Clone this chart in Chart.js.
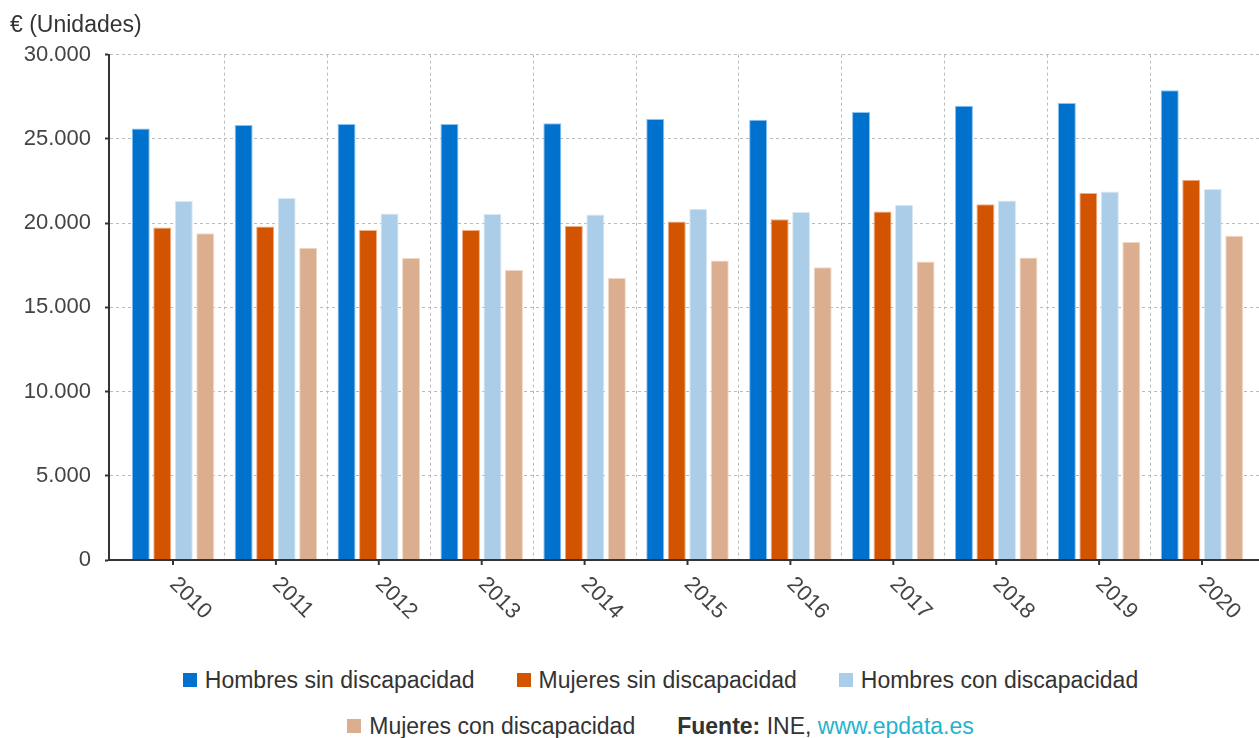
<!DOCTYPE html>
<html lang="es">
<head>
    <meta charset="UTF-8">
    <title>Salario medio anual por discapacidad y sexo</title>
    <script src="https://cdn.jsdelivr.net/npm/chart.js"></script>
    <style>
        body { margin: 0; background: #fff; font-family: "Liberation Sans", Arial, sans-serif; }
        .wrap { position: relative; width: 1259px; height: 738px; overflow: hidden; }
        #legend { position: absolute; left: 31px; top: 657px; width: 1259px; }
        .row { display: flex; justify-content: center; align-items: center; height: 46px; font-size: 23px; color: #333; white-space: nowrap; }
        .item { display: flex; align-items: center; margin: 0 21px; }
        .box { width: 14px; height: 14px; margin-right: 8px; }
        .src b { font-weight: bold; }
        .src a { color: #1fb3d0; text-decoration: none; }
    </style>
</head>
<body>
    <div class="wrap">
        <canvas id="chart" width="1259" height="640"></canvas>
        <div id="legend"></div>
    </div>

    <script>
        // Data
        const years = [2010, 2011, 2012, 2013, 2014, 2015, 2016, 2017, 2018, 2019, 2020];
        const hombresSin = [25620, 25820, 25880, 25880, 25920, 26180, 26140, 26600, 26960, 27130, 27880];
        const mujeresSin = [19740, 19800, 19590, 19590, 19820, 20100, 20220, 20690, 21110, 21780, 22570];
        const hombresCon = [21310, 21490, 20570, 20540, 20510, 20850, 20660, 21090, 21340, 21880, 22020];
        const mujeresCon = [19390, 18540, 17920, 17220, 16740, 17780, 17370, 17720, 17960, 18870, 19250];

        const seriesNames = ['Hombres sin discapacidad', 'Mujeres sin discapacidad', 'Hombres con discapacidad', 'Mujeres con discapacidad'];
        const seriesColors = ['#0072ce', '#d35400', '#abcde8', '#daae8f'];
        const seriesBorders = ['#8cc2ee', '#f0ae88', '#d8e8f5', '#f1d8c6'];
        const seriesValues = [hombresSin, mujeresSin, hombresCon, mujeresCon];

        const fontFamily = '"Liberation Sans", Arial, sans-serif';
        Chart.defaults.font.family = fontFamily;

        function fmt(v) {
            return String(v).replace(/\B(?=(\d{3})+(?!\d))/g, '.');
        }

        const datasets = seriesNames.map((name, i) => ({
            label: name,
            data: years.map((yr, j) => ({ x: yr, y: seriesValues[i][j] })),
            backgroundColor: seriesColors[i],
            borderColor: seriesBorders[i],
            borderWidth: 1,
            categoryPercentage: 0.836,
            barPercentage: 0.837
        }));

        // year labels are drawn rotated downwards, with a tick under each year
        const yearLabels = {
            id: 'yearLabels',
            afterDraw(chart) {
                const { ctx, chartArea } = chart;
                const x = chart.scales.x;
                ctx.save();
                ctx.strokeStyle = '#333';
                ctx.lineWidth = 2;
                ctx.fillStyle = '#444';
                ctx.font = '22px ' + fontFamily;
                years.forEach(yr => {
                    const px = x.getPixelForValue(yr);
                    ctx.beginPath();
                    ctx.moveTo(px, chartArea.bottom);
                    ctx.lineTo(px, chartArea.bottom + 5);
                    ctx.stroke();
                    ctx.save();
                    ctx.translate(px, chartArea.bottom + 21);
                    ctx.rotate(Math.PI / 4);
                    ctx.textAlign = 'left';
                    ctx.textBaseline = 'middle';
                    ctx.fillText(String(yr), 0, 0);
                    ctx.restore();
                });
                ctx.restore();
            }
        };

        new Chart(document.getElementById('chart'), {
            type: 'bar',
            data: { datasets: datasets },
            plugins: [yearLabels],
            options: {
                responsive: false,
                animation: false,
                devicePixelRatio: 1,
                layout: { padding: { left: 10, right: 0, top: 0, bottom: 0 } },
                scales: {
                    x: {
                        type: 'linear',
                        min: 2009.378,
                        max: 2020.554,
                        offset: false,
                        afterBuildTicks: s => {
                            s.ticks = years.slice(0, -1).map(yr => ({ value: yr + 0.5 }));
                        },
                        afterFit: s => { s.height = 80; },
                        ticks: { display: false },
                        grid: { color: '#bbb', lineWidth: 1, drawTicks: false, offset: false },
                        border: { display: true, color: '#333', width: 2, dash: [3, 3], z: 1 }
                    },
                    y: {
                        min: 0,
                        max: 30000,
                        afterFit: s => { s.width = 99; },
                        ticks: {
                            stepSize: 5000,
                            color: '#444',
                            padding: 14,
                            font: { size: 22 },
                            callback: v => fmt(v)
                        },
                        grid: { color: '#bbb', lineWidth: 1, tickColor: '#333', tickLength: 4, tickWidth: 2 },
                        border: { display: true, color: '#333', width: 2, dash: [3, 3], z: 1 }
                    }
                },
                plugins: {
                    legend: { display: false },
                    tooltip: { enabled: false },
                    title: {
                        display: true,
                        text: '€ (Unidades)',
                        align: 'start',
                        color: '#333',
                        font: { size: 23, weight: 'normal' },
                        padding: { top: 12, bottom: 15 }
                    }
                }
            }
        });

        // legend below the chart
        const legend = document.getElementById('legend');
        const row1 = document.createElement('div');
        row1.className = 'row';
        const row2 = document.createElement('div');
        row2.className = 'row';
        seriesNames.forEach((name, i) => {
            const item = document.createElement('div');
            item.className = 'item';
            item.innerHTML = `<span class="box" style="background:${seriesColors[i]}"></span><span>${name}</span>`;
            (i < 3 ? row1 : row2).appendChild(item);
        });
        const src = document.createElement('div');
        src.className = 'item src';
        src.innerHTML = '<b>Fuente:</b>&nbsp;INE,&nbsp;<a href="#">www.epdata.es</a>';
        row2.appendChild(src);
        legend.appendChild(row1);
        legend.appendChild(row2);
    </script>
</body>
</html>
